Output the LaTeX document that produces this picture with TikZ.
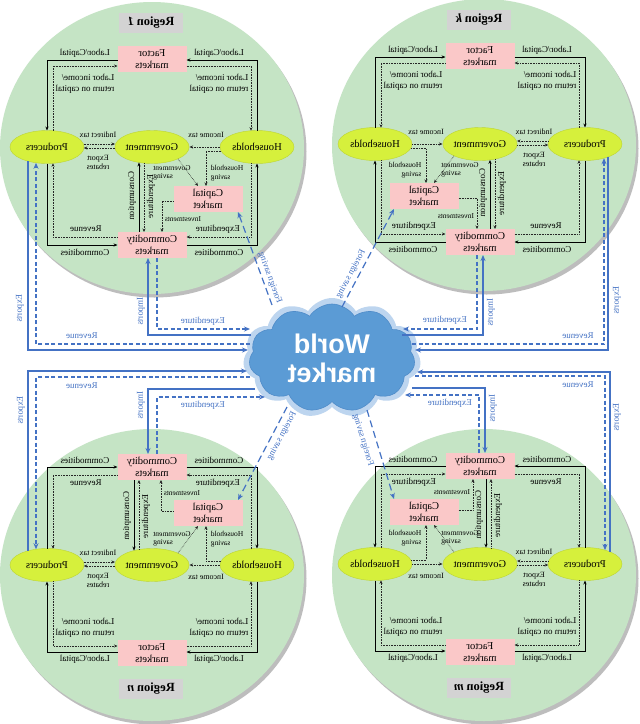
\documentclass[tikz,border=0pt]{standalone}
\usepackage{fontspec}
\setmainfont{Liberation Serif}
\newfontfamily\cloudfont{Liberation Sans}
\usetikzlibrary{arrows.meta,calc,shapes.geometric,shapes.symbols}
\definecolor{regiongreen}{HTML}{C5E4C5}
\definecolor{regionshadow}{HTML}{BDBDBD}
\definecolor{boxpink}{HTML}{FAC8C8}
\definecolor{ellgreen}{HTML}{D6F03C}
\definecolor{ellline}{HTML}{BCD434}
\definecolor{ttlgray}{HTML}{D3D3D3}
\definecolor{flowblue}{HTML}{4472C4}
\definecolor{cloudblue}{HTML}{5B9BD5}
\definecolor{cloudedge}{HTML}{4F8CC9}
\definecolor{cloudglow}{HTML}{BDD5EF}
\tikzset{
 every node/.append style={transform shape},
 ell/.style={ellipse, fill=ellgreen, draw=ellline, line width=0.4pt, minimum width=74pt, minimum height=33pt, inner sep=0pt, font=\fontsize{10.5}{12}\selectfont},
 mbox/.style={rectangle, fill=boxpink, minimum width=69pt, minimum height=26pt, inner sep=0pt, align=center, font=\fontsize{10.5}{11.5}\selectfont},
 ttl/.style={rectangle, fill=ttlgray, minimum width=64pt, minimum height=20pt, inner sep=0pt, font=\fontsize{12.5}{14}\selectfont\bfseries},
 lbl/.style={inner sep=0pt, font=\fontsize{9}{10.5}\selectfont, align=center},
 slbl/.style={inner sep=0pt, font=\fontsize{8}{9}\selectfont, align=center},
 tlbl/.style={inner sep=0pt, font=\fontsize{7.5}{8.5}\selectfont},
 blbl/.style={inner sep=0pt, text=flowblue, font=\fontsize{9}{10}\selectfont},
 sarr/.style={draw=black, line width=0.8pt, -{Stealth[length=4pt,width=3.2pt]}},
 darr/.style={draw=black!85, line width=0.6pt, densely dotted, -{Stealth[length=3.5pt,width=3pt]}},
 bsarr/.style={draw=flowblue, line width=1.2pt, -{Stealth[length=6pt,width=5pt]}},
 bdarr/.style={draw=flowblue, line width=1.2pt, dash pattern=on 4pt off 2.5pt, -{Stealth[length=6pt,width=5pt]}},
 fsarr/.style={draw=flowblue, line width=1.2pt, dash pattern=on 7pt off 4pt, -{Stealth[length=6pt,width=5pt]}},
}
% #1 prefix, #2 gx, #3 gy, #4 sx, #5 sy, #6 region letter, #7 consumption x, #8 investment x
\newcommand\drawregion[8]{%
  \node[ell] (#1P) at ({#2-105*(#4)},#3) {Producers};
  \node[ell] (#1G) at (#2,#3) {Government};
  \node[ell] (#1H) at ({#2+105*(#4)},#3) {Households};
  \node[mbox] (#1F) at (#2,{#3-88*(#5)}) {Factor\\markets};
  \node[mbox] (#1C) at (#2,{#3+98*(#5)}) {Commodity\\markets};
  \node[mbox] (#1K) at ({#2+56*(#4)},{#3+52*(#5)}) {Capital\\market};
  \node[ttl] (#1T) at ({#2-1},{#3-124*(#5)}) {Region \textit{#6}};
  % factor market flows
  \draw[sarr] ($(#1F)+({-34.5*(#4)},{1*(#5)})$) -| ($(#1P)+(0,{-16.5*(#5)})$);
  \draw[darr] ($(#1P)+({6*(#4)},{-16.3*(#5)})$) |- ($(#1F)+({-34.5*(#4)},{7*(#5)})$);
  \draw[sarr] ($(#1H)+(0,{-16.5*(#5)})$) |- ($(#1F)+({34.5*(#4)},{1*(#5)})$);
  \draw[darr] ($(#1F)+({34.5*(#4)},{7*(#5)})$) -| ($(#1H)+({-6*(#4)},{-16.3*(#5)})$);
  % commodity market flows
  \draw[sarr] ($(#1P)+(0,{16.5*(#5)})$) |- ($(#1C)+({-34.5*(#4)},0)$);
  \draw[darr] ($(#1C)+({-34.5*(#4)},{-8*(#5)})$) -| ($(#1P)+({6*(#4)},{16.3*(#5)})$);
  \draw[sarr] ($(#1C)+({34.5*(#4)},0)$) -| ($(#1H)+(0,{16.5*(#5)})$);
  \draw[darr] ($(#1H)+({-6*(#4)},{16.3*(#5)})$) |- ($(#1C)+({34.5*(#4)},{-8*(#5)})$);
  % government flows
  \draw[darr] ($(#1P)+({36.5*(#4)},-3)$) -- ($(#1G)+({-37*(#4)},-3)$);
  \draw[darr] ($(#1G)+({-37*(#4)},1)$) -- ($(#1P)+({36.8*(#4)},1)$);
  \draw[darr] ($(#1H)+({-37*(#4)},0)$) -- ($(#1G)+({37.5*(#4)},0)$);
  \draw[sarr] ($(#1C)+({#7},{-13*(#5)})$) -- ($(#1G)+({#7},{16.5*sqrt(1-((#7)/37.5)^2)*(#5)})$);
  \draw[darr] ($(#1G)+({(#7)+5},{16.5*sqrt(1-(((#7)+5)/37.5)^2)*(#5)})$) -- ($(#1C)+({(#7)+5},{-13*(#5)})$);
  % savings and investment
  \draw[darr] ($(#1H)+({-36*(#4)},{4*(#5)})$) -| ($(#1K)+({-2*(#4)},{-13*(#5)})$);
  \draw[darr] ($(#1G)+({26*(#4)},{11.9*(#5)})$) -- ($(#1K)+({-10*(#4)},{-13*(#5)})$);
  \draw[darr] ($(#1K)+({-34.5*(#4)},{2*(#5)})$) -| ($(#1C)+({#8},{-13*(#5)})$);
  % labels
  \node[lbl] (#1l1) at ($(#1G)+({-67*(#4)},{-94*(#5)})$) {Labor/Capital};
  \node[lbl] (#1l2) at ($(#1G)+({67*(#4)},{-94*(#5)})$) {Labor/Capital};
  \node[lbl,align=left] (#1l3) at ($(#1G)+({-67*(#4)},{-63*(#5)})$) {Labor income/\\return on capital};
  \node[lbl,align=left] (#1l4) at ($(#1G)+({67*(#4)},{-63*(#5)})$) {Labor income/\\return on capital};
  \node[lbl] (#1l5) at ($(#1G)+({-67*(#4)},{105*(#5)})$) {Commodities};
  \node[lbl] (#1l6) at ($(#1G)+({67*(#4)},{105*(#5)})$) {Commodities};
  \node[lbl] (#1l7) at ($(#1G)+({-66*(#4)},{82*(#5)})$) {Revenue};
  \node[lbl] (#1l8) at ($(#1G)+({66*(#4)},{82*(#5)})$) {Expenditure};
  \node[slbl] (#1l9) at ($(#1G)+({-54*(#4)},-12)$) {Indirect tax};
  \node[slbl] (#1l10) at ($(#1G)+({-54*(#4)},15)$) {Export\\rebates};
  \node[slbl] (#1l11) at ($(#1G)+({54*(#4)},{-12*(#5)})$) {Income tax};
  \ifnum#4>0
    \node[tlbl,align=right] (#1l12) at ($(#1G)+({75*(#4)},{26*(#5)})$) {Household\\saving};
  \else
    \node[tlbl,align=left] (#1l12) at ($(#1G)+({75*(#4)},{26*(#5)})$) {Household\\saving};
  \fi
  \node[tlbl,align=right] (#1l13) at ($(#1G)+({20*(#4)},{26*(#5)})$) {Government\\saving};
  \node[tlbl] (#1l14) at ($(#1G)+({(#8)+21*(#4)},{72*(#5)})$) {Investments};
  \node[lbl,rotate=-90] (#1l15) at ($(#1G)+({(#7)-7},{49*(#5)})$) {Consumption};
  \node[lbl,rotate=-90] (#1l16) at ($(#1G)+({(#7)+12},{49*(#5)})$) {Expenditure};
}
\begin{document}
\begin{tikzpicture}[x=-1pt,y=-1pt,xscale=-1]
\useasboundingbox (0,0) rectangle (640,724);
\fill[white] (0,0) rectangle (640,724);
% region discs
\foreach \cx/\cy in {152/148, 484/145, 152/575, 484/575} {
  \fill[regionshadow] (\cx+2.5,\cy+3.5) ellipse [x radius=152pt, y radius=146pt];
  \fill[regiongreen] (\cx,\cy) ellipse [x radius=152pt, y radius=146pt];
}
% world market
\node[cloud, cloud puffs=11, cloud puff arc=115, aspect=1.5, fill=cloudglow, minimum width=178pt, minimum height=120pt, inner sep=0pt] (Wg) at (332,358) {};
\node[cloud, cloud puffs=11, cloud puff arc=115, aspect=1.5, fill=cloudblue, draw=cloudedge, line width=0.6pt, minimum width=166pt, minimum height=108pt, inner sep=0pt, text=white, align=center, font=\cloudfont\fontsize{27}{29}\selectfont\bfseries] (W) at (332,358) {World\\market};

\drawregion{a}{152}{147}{1}{1}{1}{-13}{10}
\drawregion{b}{480}{144}{-1}{1}{k}{10}{-3}
\drawregion{c}{152}{565}{1}{-1}{n}{-18}{9}
\drawregion{d}{480}{564}{-1}{-1}{m}{6}{-7}

% region 1 world flows
\draw[bsarr] ($(aP)+(-19,14.2)$) |- ($(W)+(-84,-8)$);
\draw[bdarr] ($(W)+(-82,-14)$) -| ($(aP)+(-11,15.8)$);
\draw[bsarr] ($(W)+(-81,-23)$) -| ($(aC)+(-4,13)$);
\draw[bdarr] ($(aC)+(5,13)$) |- ($(W)+(-82,-29)$);
% region k world flows
\draw[bsarr] ($(bP)+(23,12.9)$) |- ($(W)+(83,-8)$);
\draw[bdarr] ($(W)+(80,-14)$) -| ($(bP)+(19,14.2)$);
\draw[bsarr] ($(W)+(70,-23)$) -| ($(bC)+(3,13)$);
\draw[bdarr] ($(bC)+(-3,13)$) |- ($(W)+(71,-29)$);
% region n world flows
\draw[bsarr] ($(cP)+(-19,-14.2)$) |- ($(W)+(-85,13)$);
\draw[bdarr] ($(W)+(-82,19)$) -| ($(cP)+(-11,-15.8)$);
\draw[bsarr] ($(W)+(-77,31)$) -| ($(cC)+(-4,-13)$);
\draw[bdarr] ($(cC)+(5,-13)$) |- ($(W)+(-67,39)$);
% region m world flows
\draw[bsarr] ($(dP)+(25,-12.2)$) |- ($(W)+(85,14)$);
\draw[bdarr] ($(W)+(83,18)$) -| ($(dP)+(20,-13.9)$);
\draw[bsarr] ($(W)+(80,30)$) -| ($(dC)+(5,-13)$);
\draw[bdarr] ($(dC)+(-1,-13)$) |- ($(W)+(73,37)$);
% foreign saving
\draw[fsarr] ($(W)+(-60,-53)$) -- ($(aK)+(30,13)$);
\draw[fsarr] ($(W)+(10,-51)$) -- ($(bK)+(-30,13)$);
\draw[fsarr] ($(W)+(-45,49)$) -- ($(cK)+(30,-13)$);
\draw[fsarr] ($(W)+(35,52)$) -- ($(dK)+(-30,-13)$);
% blue labels
\node[blbl,rotate=70] (fs1) at (270,278) {Foreign saving};
\node[blbl,rotate=-62] (fs2) at (351,274) {Foreign saving};
\node[blbl,rotate=-62] (fs3) at (282,436) {Foreign saving};
\node[blbl,rotate=73] (fs4) at (363,440) {Foreign saving};
\node[blbl,rotate=-90] (ex1) at (20,308) {Exports};
\node[blbl] (rv1) at (82,336) {Revenue};
\node[blbl,rotate=-90] (im1) at (141,311) {Imports};
\node[blbl] (ep1) at (203,321) {Expenditure};
\node[blbl,rotate=-90] (ex2) at (617,300) {Exports};
\node[blbl] (rv2) at (578,336) {Revenue};
\node[blbl,rotate=-90] (im2) at (491,312) {Imports};
\node[blbl] (ep2) at (445,320) {Expenditure};
\node[blbl,rotate=-90] (ex3) at (21,410) {Exports};
\node[blbl] (rv3) at (82,386) {Revenue};
\node[blbl,rotate=-90] (im3) at (141,405) {Imports};
\node[blbl] (ep3) at (203,405) {Expenditure};
\node[blbl,rotate=-90] (ex4) at (617,417) {Exports};
\node[blbl] (rv4) at (578,385) {Revenue};
\node[blbl,rotate=-90] (im4) at (493,408) {Imports};
\node[blbl] (ep4) at (450,403) {Expenditure};
\end{tikzpicture}
\end{document}
